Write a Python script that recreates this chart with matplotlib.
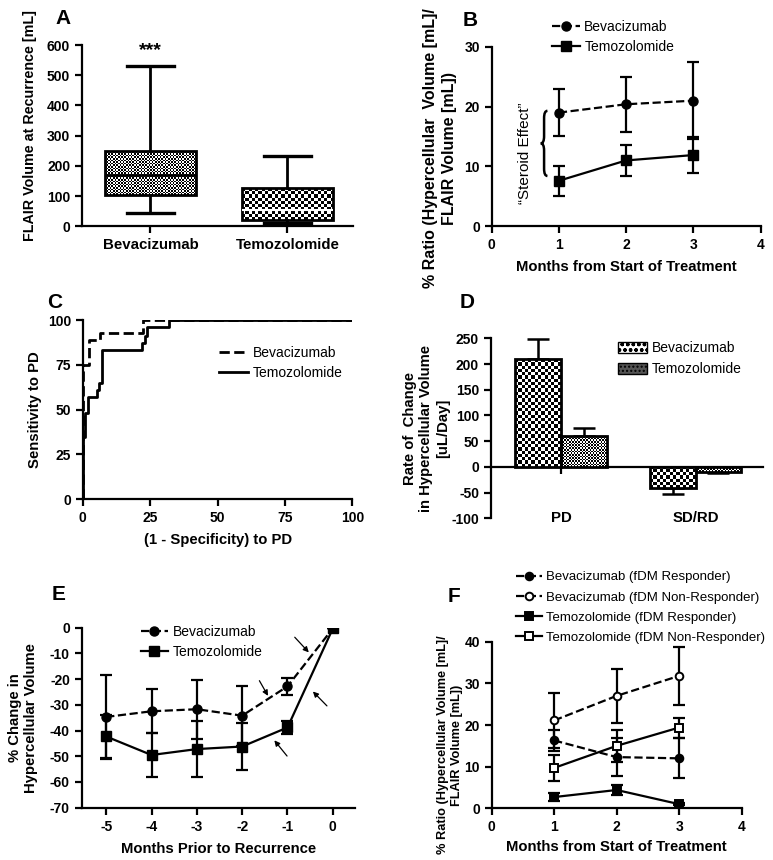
import numpy as np
import matplotlib
matplotlib.use("Agg")
import matplotlib.pyplot as plt
from matplotlib.path import Path
from matplotlib.patches import PathPatch, Patch

plt.rcParams["font.family"] = ["Liberation Sans", "DejaVu Sans"]
plt.rcParams["axes.linewidth"] = 1.6
plt.rcParams["lines.linewidth"] = 1.6
plt.rcParams["axes.unicode_minus"] = False

# A - FLAIR volume at recurrence (box plot stats)
box_groups = ["Bevacizumab", "Temozolomide"]
box_min = [44, 10]
box_q1 = [102, 20]
box_med = [170, 55]
box_q3 = [250, 125]
box_max = [531, 232]

# B - ratio over months
months = [1, 2, 3]
b_bev = [19.0, 20.4, 21.0]
b_bev_err = [3.9, 4.6, 6.4]
b_tem = [7.6, 11.0, 11.9]
b_tem_err = [2.5, 2.6, 3.0]

# C - ROC curves
roc_bev_x = [0, 0, 2.5, 2.5, 6.4, 6.4, 22.2, 22.2, 100]
roc_bev_y = [0, 75, 75, 89, 89, 93, 93, 100, 100]
roc_tem_x = [0, 0, 1, 1, 2, 2, 5.2, 5.2, 6.2, 6.2, 7, 7, 22, 22, 23, 23, 24, 24, 32, 32, 100]
roc_tem_y = [0, 35, 35, 48, 48, 57, 57, 61, 61, 65, 65, 83, 83, 87, 87, 91, 91, 96, 96, 100, 100]

# D - rate of change
rate_groups = ["PD", "SD/RD"]
rate_bev = [210, -42]
rate_bev_err = [38, 10]
rate_tem = [60, -10]
rate_tem_err = [16, 2]

# E - % change prior to recurrence
prior = [-5, -4, -3, -2, -1, 0]
e_bev = [-34.7, -32.5, -31.7, -34.2, -22.8, -0.3]
e_bev_err = [16.4, 8.5, 11.4, 11.7, 3.2, 0]
e_tem = [-42.3, -49.5, -47.2, -46.2, -38.8, -0.3]
e_tem_err = [8.5, 8.7, 11.0, 9.1, 2.4, 0]
e_arrows = [((-1.62, -20.6), (-1.43, -26.5)),
            ((-0.84, -3.7), (-0.53, -9.6)),
            ((-0.13, -30.4), (-0.44, -24.8)),
            ((-1.01, -49.9), (-1.29, -43.8))]

# F - fDM responders / non-responders
f_bev_r = [16.3, 12.3, 12.0]
f_bev_r_err = [2.5, 4.5, 4.8]
f_bev_nr = [21.1, 27.0, 31.8]
f_bev_nr_err = [6.5, 6.5, 7.0]
f_tem_r = [2.7, 4.4, 1.0]
f_tem_r_err = [0.9, 1.1, 0.3]
f_tem_nr = [9.7, 15.0, 19.4]
f_tem_nr_err = [3.2, 3.9, 2.4]

TICK = 10
LAB = 10.7


def style(ax):
    ax.spines["top"].set_visible(False)
    ax.spines["right"].set_visible(False)
    ax.tick_params(direction="out", length=5, width=1.6, labelsize=TICK)
    for t in ax.get_xticklabels() + ax.get_yticklabels():
        t.set_fontweight("bold")


def checker(ax, patch, cell, extent):
    # checkerboard fill clipped to a patch
    bb = patch.get_window_extent()
    nx = max(1, int(round(bb.width / cell)))
    ny = max(1, int(round(bb.height / cell)))
    arr = np.indices((ny, nx)).sum(0) % 2
    im = ax.imshow(arr, cmap="gray", extent=extent, interpolation="nearest",
                   aspect="auto", zorder=patch.get_zorder() - 0.1, vmin=0, vmax=1)
    im.set_clip_path(patch)


fig = plt.figure(figsize=(7.73, 8.6), dpi=100)

# ---------- A ----------
axA = fig.add_axes([0.106, 0.737, 0.351, 0.2105])
stats = []
for i in range(2):
    stats.append(dict(med=box_med[i], q1=box_q1[i], q3=box_q3[i],
                      whislo=box_min[i], whishi=box_max[i], fliers=[]))
bp = axA.bxp(stats, positions=[0, 1], widths=0.67, capwidths=0.34,
             patch_artist=True, showfliers=False,
             boxprops=dict(facecolor="none", edgecolor="black", linewidth=2),
             whiskerprops=dict(color="black", linewidth=2),
             capprops=dict(color="black", linewidth=2.4),
             medianprops=dict(color="black", linewidth=2))
bp["medians"][1].set_color("white")
bp["medians"][1].set_linewidth(1.5)
axA.set_xlim(-0.5, 1.48)
axA.set_ylim(0, 600)
axA.set_xticks([0, 1])
axA.set_xticklabels(box_groups, fontsize=10.8)
axA.set_yticks(range(0, 601, 100))
for i, b in enumerate(bp["boxes"]):
    ext = b.get_path().get_extents()
    checker(axA, b, 1.6 if i == 0 else 3.3, (ext.x0, ext.x1, ext.y0, ext.y1))
axA.set_xlim(-0.5, 1.48)
axA.set_ylim(0, 600)
axA.text(0, 583, "***", ha="center", va="center", fontsize=14, fontweight="bold")
axA.set_ylabel("FLAIR Volume at Recurrence [mL]", fontsize=10.3, fontweight="bold")
axA.yaxis.set_label_coords(-0.166, 0.555)
style(axA)
axA.tick_params(axis="x", labelsize=10.8)

# ---------- B ----------
axB = fig.add_axes([0.636, 0.737, 0.348, 0.2085])
axB.errorbar(months, b_bev, yerr=b_bev_err, fmt="none", ecolor="black",
             elinewidth=1.6, capsize=4.5, capthick=1.6)
axB.errorbar(months, b_tem, yerr=b_tem_err, fmt="none", ecolor="black",
             elinewidth=1.6, capsize=4.5, capthick=1.6)
axB.plot(months, b_bev, "k--o", markersize=6.5, lw=1.6, label="Bevacizumab")
axB.plot(months, b_tem, "k-s", markersize=6.5, lw=1.6, label="Temozolomide")
axB.set_xlim(0, 4)
axB.set_ylim(0, 30)
axB.set_xticks(range(0, 5))
axB.set_yticks([0, 10, 20, 30])
axB.set_xlabel("Months from Start of Treatment", fontsize=LAB, fontweight="bold", labelpad=6)
axB.set_ylabel("% Ratio (Hypercellular  Volume [mL]/\nFLAIR Volume [mL])",
               fontsize=11.5, fontweight="bold", linespacing=1.3)
axB.yaxis.set_label_coords(-0.129, 0.435)
axB.legend(loc="center left", bbox_to_anchor=(0.2, 1.055), frameon=False,
           fontsize=10, borderpad=0, handlelength=2.0, handletextpad=0.3,
           labelspacing=0.45)
axB.text(0.49, 12.2, "\u201cSteroid Effect\u201d", rotation=90, ha="center",
         va="center", fontsize=11)
# curly brace
xl, xm, xr = 0.73, 0.78, 0.83
yt, yb = 19.3, 8.4
ym = (yt + yb) / 2
d = 1.2
verts = [(xr, yt), (xm, yt), (xm, yt - d), (xm, ym + d), (xm, ym), (xl, ym),
         (xm, ym), (xm, ym - d), (xm, yb + d), (xm, yb), (xr, yb)]
codes = [Path.MOVETO, Path.CURVE3, Path.CURVE3, Path.LINETO, Path.CURVE3, Path.CURVE3,
         Path.CURVE3, Path.CURVE3, Path.LINETO, Path.CURVE3, Path.CURVE3]
axB.add_patch(PathPatch(Path(verts, codes), facecolor="none", edgecolor="black", lw=1.8))
style(axB)

# ---------- C ----------
axC = fig.add_axes([0.107, 0.4194, 0.349, 0.2085])
axC.plot(roc_bev_x, roc_bev_y, "k--", lw=2, label="Bevacizumab")
axC.plot(roc_tem_x, roc_tem_y, "k-", lw=2, label="Temozolomide")
axC.set_xlim(0, 100)
axC.set_ylim(0, 100)
axC.set_xticks([0, 25, 50, 75, 100])
axC.set_yticks([0, 25, 50, 75, 100])
axC.set_xlabel("(1 - Specificity) to PD", fontsize=LAB, fontweight="bold", labelpad=6)
axC.set_ylabel("Sensitivity to PD", fontsize=LAB, fontweight="bold")
axC.yaxis.set_label_coords(-0.151, 0.5)
axC.legend(loc="center left", bbox_to_anchor=(0.48, 0.76), frameon=False,
           fontsize=10, borderpad=0, handlelength=2.1, handletextpad=0.3,
           labelspacing=0.45)
style(axC)

# ---------- D ----------
axD = fig.add_axes([0.635, 0.3973, 0.352, 0.2093])
xd = np.arange(len(rate_groups))
w = 0.34
axD.set_xlim(-0.52, 1.5)
axD.set_ylim(-100, 250)
bars_bev = axD.bar(xd - w / 2, rate_bev, w, facecolor="none", edgecolor="black", lw=2, zorder=3)
bars_tem = axD.bar(xd + w / 2, rate_tem, w, facecolor="none", edgecolor="black", lw=2, zorder=3)
for bars, vals, errs in [(bars_bev, rate_bev, rate_bev_err), (bars_tem, rate_tem, rate_tem_err)]:
    for r, v, e in zip(bars, vals, errs):
        lo = [0] if v > 0 else [e]
        hi = [e] if v > 0 else [0]
        axD.errorbar(r.get_x() + r.get_width() / 2, v, yerr=[lo, hi], fmt="none",
                     ecolor="black", elinewidth=1.8, capsize=8, capthick=1.8, zorder=2)
for bars, cell in [(bars_bev, 3.3), (bars_tem, 1.6)]:
    for r in bars:
        bb = r.get_bbox()
        checker(axD, r, cell, (bb.x0, bb.x1, bb.y0, bb.y1))
axD.set_xlim(-0.52, 1.5)
axD.set_ylim(-100, 250)
axD.spines["bottom"].set_position(("data", 0))
axD.set_xticks(xd)
axD.set_xticklabels([])
axD.set_yticks(range(-100, 251, 50))
for x, g in zip(xd, rate_groups):
    axD.text(x, -100, g, ha="center", va="center", fontsize=10.8, fontweight="bold")
axD.set_ylabel("Rate of  Change\nin Hypercellular Volume\n[uL/Day]", fontsize=LAB,
               fontweight="bold", linespacing=1.25)
axD.yaxis.set_label_coords(-0.15, 0.5)
hB = Patch(facecolor="white", edgecolor="black", hatch="ooo", label="Bevacizumab")
hT = Patch(facecolor="#555555", edgecolor="black", hatch="....", label="Temozolomide")
axD.legend(handles=[hB, hT], loc="center left", bbox_to_anchor=(0.44, 0.886),
           frameon=False, fontsize=10, borderpad=0, handlelength=2.1,
           handleheight=0.8, handletextpad=0.35, labelspacing=0.5)
style(axD)

# ---------- E ----------
axE = fig.add_axes([0.1057, 0.0608, 0.3536, 0.2093])
axE.errorbar(prior, e_bev, yerr=e_bev_err, fmt="none", ecolor="black",
             elinewidth=1.6, capsize=4.5, capthick=1.6)
axE.errorbar(prior, e_tem, yerr=e_tem_err, fmt="none", ecolor="black",
             elinewidth=1.6, capsize=4.5, capthick=1.6)
axE.plot(prior, e_bev, "k--o", markersize=6.5, lw=1.6, label="Bevacizumab")
axE.plot(prior, e_tem, "k-s", markersize=6.5, lw=1.6, label="Temozolomide")
for tail, head in e_arrows:
    axE.annotate("", xy=head, xytext=tail,
                 arrowprops=dict(arrowstyle="-|>", color="black", lw=0.9,
                                 mutation_scale=8, shrinkA=0, shrinkB=0))
axE.set_xlim(-5.54, 0.49)
axE.set_ylim(-70, 0)
axE.set_xticks(prior)
axE.set_yticks(range(-70, 1, 10))
axE.set_xlabel("Months Prior to Recurrence", fontsize=LAB, fontweight="bold", labelpad=6)
axE.set_ylabel("% Change in\nHypercellular Volume", fontsize=LAB, fontweight="bold")
axE.yaxis.set_label_coords(-0.16, 0.5)
axE.legend(loc="center left", bbox_to_anchor=(0.19, 0.92), frameon=False,
           fontsize=10, borderpad=0, handlelength=2.0, handletextpad=0.3,
           labelspacing=0.45)
style(axE)

# ---------- F ----------
axF = fig.add_axes([0.636, 0.0601, 0.3234, 0.1937])
series = [(f_bev_r, f_bev_r_err, "--", "o", "black", "Bevacizumab (fDM Responder)"),
          (f_bev_nr, f_bev_nr_err, "--", "o", "white", "Bevacizumab (fDM Non-Responder)"),
          (f_tem_r, f_tem_r_err, "-", "s", "black", "Temozolomide (fDM Responder)"),
          (f_tem_nr, f_tem_nr_err, "-", "s", "white", "Temozolomide (fDM Non-Responder)")]
for vals, errs, ls, mk, fc, lab in series:
    axF.errorbar(months, vals, yerr=errs, fmt="none", ecolor="black",
                 elinewidth=1.6, capsize=4.5, capthick=1.6)
for vals, errs, ls, mk, fc, lab in series:
    axF.plot(months, vals, color="black", ls=ls, marker=mk, markersize=5.5 if mk == "o" else 6,
             markerfacecolor=fc, markeredgecolor="black", markeredgewidth=1.4, lw=1.6, label=lab)
axF.set_xlim(0, 4)
axF.set_ylim(0, 40)
axF.set_xticks(range(0, 5))
axF.set_yticks([0, 10, 20, 30, 40])
axF.set_xlabel("Months from Start of Treatment", fontsize=LAB, fontweight="bold", labelpad=4)
axF.set_ylabel("% Ratio (Hypercellular Volume [mL]/\nFLAIR Volume [mL])",
               fontsize=9.2, fontweight="bold")
axF.yaxis.set_label_coords(-0.115, 0.38)
axF.legend(loc="center left", bbox_to_anchor=(0.07, 1.205), frameon=False,
           fontsize=9.5, borderpad=0, handlelength=2.0, handletextpad=0.3,
           labelspacing=0.6)
style(axF)

# panel letters
for x, y, s in [(55, 18, "A"), (463, 20, "B"), (47, 303, "C"), (460, 303, "D"),
                (52, 595, "E"), (448, 597, "F")]:
    fig.text(x / 773, 1 - y / 860, s, fontsize=15, fontweight="bold",
             ha="left", va="center")

fig.savefig("out.png", dpi=100)
